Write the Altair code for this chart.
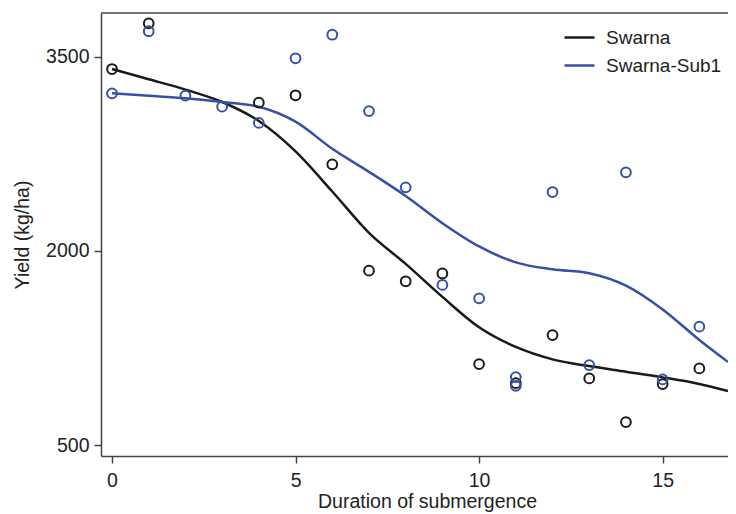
import altair as alt
import pandas as pd

# Observed points
pt_x = [0, 1, 4, 5, 6, 7, 8, 9, 10, 11, 12, 13, 14, 15, 16]
swarna_pts = [3407, 3760, 3147, 3204, 2670, 1848, 1766, 1826, 1126, 978, 1350, 1015, 677, 971, 1092]
sub1_x = [0, 1, 2, 3, 4, 5, 6, 7, 8, 9, 10, 11, 11, 12, 13, 14, 15, 16]
sub1_pts = [3219, 3699, 3201, 3116, 2990, 3490, 3672, 3082, 2492, 1738, 1634, 1025, 958, 2456, 1118, 2608, 1007, 1415]

# Smoothed curves
curve_x = [0, 1, 2, 3, 4, 5, 6, 7, 8, 9, 10, 11, 12, 13, 14, 15, 16, 16.78]
swarna_curve = [3407, 3328, 3248, 3152, 3005, 2770, 2460, 2140, 1900, 1645, 1410, 1258, 1162, 1110, 1067, 1023, 972, 918]
sub1_curve = [3219, 3200, 3180, 3152, 3115, 3000, 2790, 2612, 2425, 2215, 2035, 1912, 1858, 1828, 1732, 1548, 1312, 1142]

series = ["Swarna", "Swarna-Sub1"]
colors = ["#1a1a1a", "#3551a6"]

pts = pd.DataFrame(
    [{"x": x, "y": y, "Variety": series[0]} for x, y in zip(pt_x, swarna_pts)]
    + [{"x": x, "y": y, "Variety": series[1]} for x, y in zip(sub1_x, sub1_pts)]
)
curves = pd.DataFrame(
    [{"x": x, "y": y, "Variety": series[0]} for x, y in zip(curve_x, swarna_curve)]
    + [{"x": x, "y": y, "Variety": series[1]} for x, y in zip(curve_x, sub1_curve)]
)

xdom = [-0.3, 16.78]
ydom = [415, 3840]

xs = alt.Scale(domain=xdom, nice=False, zero=False)
ys = alt.Scale(domain=ydom, nice=False, zero=False)
cs = alt.Scale(domain=series, range=colors)

FONT = "Liberation Sans"
xaxis = alt.Axis(values=[0, 5, 10, 15], title="Duration of submergence", format="d",
                 titleX=326, titlePadding=3, labelPadding=8,
                 labelFontSize=19.5, titleFontSize=19.5, labelFont=FONT, titleFont=FONT)
yaxis = alt.Axis(values=[500, 2000, 3500], title="Yield (kg/ha)", format="d",
                 titlePadding=13, labelPadding=5,
                 labelFontSize=19.5, titleFontSize=19.5, labelFont=FONT, titleFont=FONT)

lines = alt.Chart(curves).mark_line(interpolate="monotone", strokeWidth=2.5).encode(
    x=alt.X("x:Q", scale=xs, axis=xaxis),
    y=alt.Y("y:Q", scale=ys, axis=yaxis),
    color=alt.Color("Variety:N", scale=cs, sort=series,
                    legend=alt.Legend(title=None, orient="none", legendX=462, legendY=8,
                                      symbolType="stroke", symbolSize=900,
                                      symbolStrokeWidth=2.5, labelFontSize=19,
                                      labelFont=FONT, labelColor="#222",
                                      labelOffset=10, rowPadding=1)),
    detail="Variety:N",
)

points = alt.Chart(pts).mark_point(shape="circle", filled=False, size=95, strokeWidth=2,
                                   opacity=1).encode(
    x=alt.X("x:Q", scale=xs),
    y=alt.Y("y:Q", scale=ys),
    color=alt.Color("Variety:N", scale=cs, legend=None),
)

top_border = alt.Chart(pd.DataFrame({"a": [0]})).mark_rule(color="#444", strokeWidth=1.5).encode(
    x=alt.value(0), x2=alt.value(627), y=alt.value(0)
)

chart = alt.layer(lines, points, top_border).properties(
    width=627, height=443,
    autosize=alt.AutoSizeParams(type="none"),
    padding={"left": 93, "top": 5, "right": 0, "bottom": 58},
).configure_view(stroke=None).configure_axis(
    grid=False,
    labelColor="#222", titleFontWeight="normal", titleColor="#222",
    tickColor="#444", tickSize=7, tickWidth=1.5,
    domainColor="#444", domainWidth=1.5,
)

chart.save("out.html", embed_options={"renderer": "svg", "actions": False})
